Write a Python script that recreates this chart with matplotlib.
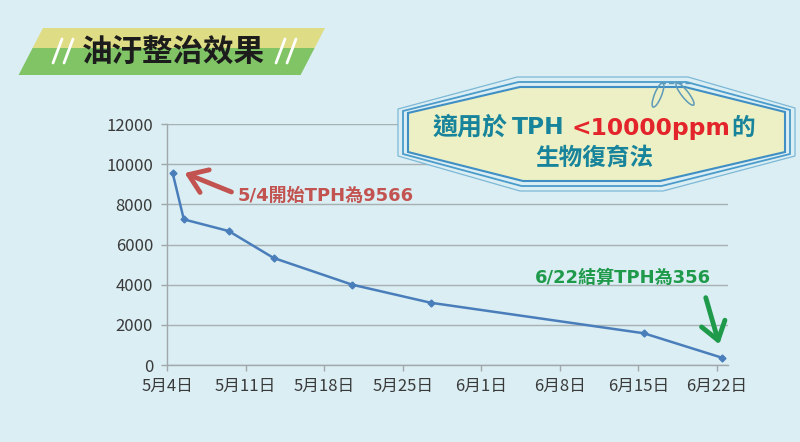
import matplotlib
matplotlib.use('Agg')
import matplotlib.pyplot as plt
import matplotlib.dates as mdates
import pandas as pd
from matplotlib.patches import Polygon, FancyArrowPatch, Ellipse

# ---- data ----
dates = ['2015-05-04', '2015-05-05', '2015-05-09', '2015-05-13',
         '2015-05-20', '2015-05-27', '2015-06-15', '2015-06-22']
tph = [9566, 7250, 6670, 5330, 4000, 3100, 1580, 356]
tick_dates = ['2015-05-04', '2015-05-11', '2015-05-18', '2015-05-25',
              '2015-06-01', '2015-06-08', '2015-06-15', '2015-06-22']
x_start, x_end = '2015-05-04', '2015-06-23'
y_ticks = [0, 2000, 4000, 6000, 8000, 10000, 12000]

title = '油汙整治效果'
note_start = '5/4開始TPH為9566'
note_end = '6/22結算TPH為356'
box_line1 = ['適用於', 'TPH', '<10000ppm', '的']
box_line2 = '生物復育法'

BG = '#daeef3'
CJK = 'Noto Sans CJK TC'
MIX = ['DejaVu Sans', 'Noto Sans CJK TC']

fig = plt.figure(figsize=(8, 4.42), dpi=100)
fig.patch.set_facecolor(BG)

ax = fig.add_axes([167/800, 77/442, 561/800, 241/442])
ax.set_facecolor(BG)
xs = mdates.date2num(pd.to_datetime(dates) + pd.Timedelta(hours=12))
ax.plot(xs, tph, color='#4a7ebb', lw=1.8, marker='D', ms=3.5,
        markerfacecolor='#4a7ebb', markeredgecolor='#4a7ebb', zorder=3)
ax.set_xlim(mdates.date2num(pd.Timestamp(x_start)), mdates.date2num(pd.Timestamp(x_end)))
ax.set_ylim(0, 12000)
ax.set_yticks(y_ticks)
ax.set_yticklabels([str(v) for v in y_ticks])
ax.set_xticks(mdates.date2num(pd.to_datetime(tick_dates)))
ax.set_xticklabels([f'{d.month}月{d.day}日' for d in pd.to_datetime(tick_dates)])
ax.grid(axis='y', color='#a7b0b3', lw=1.0)
ax.set_axisbelow(True)
for s in ['top', 'right']:
    ax.spines[s].set_visible(False)
for s in ['left', 'bottom']:
    ax.spines[s].set_color('#a0a8ab')
    ax.spines[s].set_linewidth(1.0)
ax.tick_params(axis='both', colors='#a0a8ab', length=4, width=1.0)
ax.tick_params(axis='y', pad=6, labelcolor='#3a3a3a', labelsize=12)
ax.tick_params(axis='x', pad=5, labelcolor='#3a3a3a', labelsize=12)
for lab in ax.get_xticklabels() + ax.get_yticklabels():
    lab.set_family(CJK)

# ---- overlay for decorations ----
ov = fig.add_axes([0, 0, 1, 1], zorder=5)
ov.set_xlim(0, 800)
ov.set_ylim(442, 0)
ov.axis('off')
ov.patch.set_alpha(0)

# title banner
ov.add_patch(Polygon([(43, 28), (325, 28), (314.6, 48), (32.6, 48)], closed=True,
                     facecolor='#dedc84', edgecolor='none'))
ov.add_patch(Polygon([(32.6, 48), (314.6, 48), (300.6, 75), (18.6, 75)], closed=True,
                     facecolor='#80c466', edgecolor='none'))
for x0 in [58, 69, 281, 292]:
    ov.plot([x0 + 4, x0 - 5], [39, 63], color='white', lw=2.0, solid_capstyle='round')
ov.text(173, 52, title, ha='center', va='center', fontsize=22, fontweight='heavy',
        color='#1c1c1c', family=CJK)

# callout box
def octo(d):
    return [(408 - d, 113 - d * 0.4), (520 - d * 0.3, 87 - d), (685 + d * 0.3, 87 - d),
            (785 + d, 112 - d * 0.4), (785 + d, 152 + d * 0.4), (660 + d * 0.3, 181 + d),
            (523 - d * 0.3, 181 + d), (408 - d, 152 + d * 0.4)]

ov.add_patch(Polygon(octo(10), closed=True, facecolor=BG, edgecolor='#7db8d6', lw=0.9))
ov.add_patch(Polygon(octo(5), closed=True, facecolor='none', edgecolor='#4b9bcb', lw=1.3))
ov.add_patch(Polygon(octo(0), closed=True, facecolor='#edf0c4', edgecolor='#3f8fc4', lw=1.5))
# leaf decoration
ov.plot([660, 690], [83, 83], color='#5d9ab8', lw=1.0, ls=(0, (4, 2)))
ov.add_patch(Ellipse((658, 95), 7, 26, angle=22, fill=False, edgecolor='#5d9ab8', lw=1.1))
ov.add_patch(Ellipse((685, 94), 7, 28, angle=-38, fill=False, edgecolor='#5d9ab8', lw=1.1))

teal = '#17849c'
red = '#e3242b'
ov.text(433, 128, box_line1[0], ha='left', va='center', fontsize=18, fontweight='bold', color=teal, family=CJK)
ov.text(512, 128, box_line1[1], ha='left', va='center', fontsize=16.8, fontweight='bold', color=teal, family='DejaVu Sans')
ov.text(571, 128, box_line1[2], ha='left', va='center', fontsize=16.8, fontweight='bold', color=red, family='DejaVu Sans')
ov.text(731, 128, box_line1[3], ha='left', va='center', fontsize=17, fontweight='bold', color=teal, family=CJK)
ov.text(594, 158, box_line2, ha='center', va='center', fontsize=17, fontweight='bold', color=teal, family=CJK)

# annotations
c1 = '#c25350'
ov.text(238, 196, note_start, ha='left', va='center', fontsize=13, fontweight='bold', color=c1, family=MIX)
ov.add_patch(FancyArrowPatch((234, 193), (182, 172), arrowstyle='->,head_length=5,head_width=3.5',
                             color=c1, lw=3.5, mutation_scale=2.5))
c2 = '#1f9a4b'
ov.text(535, 278, note_end, ha='left', va='center', fontsize=13, fontweight='bold', color=c2, family=MIX)
ov.add_patch(FancyArrowPatch((705, 295), (720, 347), arrowstyle='->,head_length=5,head_width=3.5',
                             color=c2, lw=3.5, mutation_scale=2.5))

fig.savefig('out.png', dpi=100, facecolor=BG)
